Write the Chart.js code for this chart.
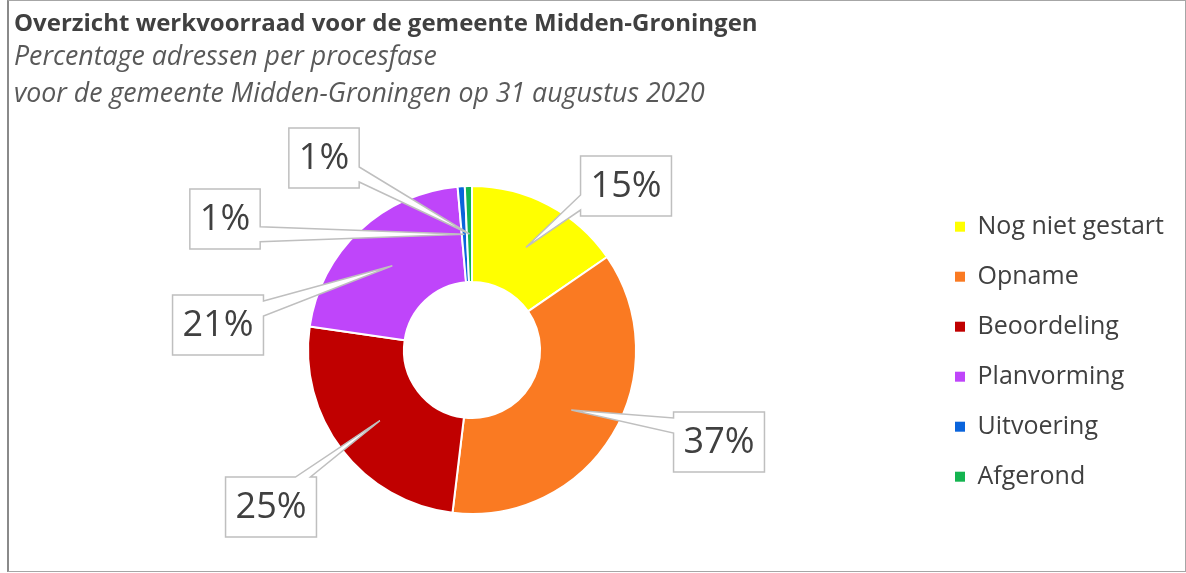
<!DOCTYPE html>
<html>
<head>
<meta charset="utf-8">
<script src="https://cdn.jsdelivr.net/npm/chart.js@4.4.1/dist/chart.umd.min.js"></script>
<style>
  html, body { margin: 0; padding: 0; background: #fff; }
  #wrap { position: relative; width: 1186px; height: 573px; }
  #chart { position: absolute; left: 0; top: 0; }
  #frame {
    position: absolute; left: 7px; top: 0; width: 1176px; height: 570px;
    border: 1px solid #a6a6a6; border-left: 2px solid #8a8a8a;
    pointer-events: none;
  }
</style>
</head>
<body>
<div id="wrap">
  <canvas id="chart" width="1186" height="573"></canvas>
  <div id="frame"></div>
</div>
<script>
// Data van de grafiek
const categories = ['Nog niet gestart', 'Opname', 'Beoordeling', 'Planvorming', 'Uitvoering', 'Afgerond'];
const percentages = [15.4, 36.5, 25.4, 21.3, 0.7, 0.7];
const sliceColors = ['#FFFF00', '#FA7A22', '#C00000', '#BF45FA', '#0A64DC', '#14B450'];

const titleText = 'Overzicht werkvoorraad voor de gemeente Midden-Groningen';
const subtitleLines = ['Percentage adressen per procesfase', 'voor de gemeente Midden-Groningen op 31 augustus 2020'];

// Labelteksten (afgerond op hele procenten)
const labelTexts = percentages.map(v => Math.round(v) + '%');

// Positie van de labelkaders t.o.v. het middelpunt, en de zijde waar de wijzer vertrekt
const labelLayout = [
  [154, -164, 'left'],
  [247, 92, 'left'],
  [-201, 157, 'top'],
  [-254, -25, 'right'],
  [-247, -131, 'right'],
  [-148, -192, 'right']
];

const FONT = '"Open Sans", Lato, sans-serif';
const TEXT_COLOR = '#404040';

// Plugin voor de labelkaders met wijzers
const calloutPlugin = {
  id: 'callouts',
  afterDatasetsDraw(chart) {
    const ctx = chart.ctx;
    const meta = chart.getDatasetMeta(0);
    const boxH = 60;
    const padX = 10;
    const hw = 7.5;
    ctx.save();
    ctx.font = '36px ' + FONT;
    meta.data.forEach((arc, i) => {
      const p = arc.getProps(['x', 'y', 'startAngle', 'endAngle', 'innerRadius', 'outerRadius'], true);
      const mid = (p.startAngle + p.endAngle) / 2;
      const rm = (p.innerRadius + p.outerRadius) / 2;
      const tipX = p.x + Math.cos(mid) * rm;
      const tipY = p.y + Math.sin(mid) * rm;

      const text = labelTexts[i];
      const w = ctx.measureText(text).width + 2 * padX;
      const [ox, oy, side] = labelLayout[i];
      const cx = p.x + ox, cy = p.y + oy;
      const l = cx - w / 2, r = cx + w / 2, t = cy - boxH / 2, b = cy + boxH / 2;
      const m = hw + 6;
      const bx = Math.min(Math.max(tipX, l + m), r - m);
      const by = Math.min(Math.max(tipY, t + m), b - m);

      ctx.beginPath();
      ctx.moveTo(l, t);
      if (side === 'top') {
        ctx.lineTo(bx - hw, t); ctx.lineTo(tipX, tipY); ctx.lineTo(bx + hw, t);
      }
      ctx.lineTo(r, t);
      if (side === 'right') {
        ctx.lineTo(r, by - hw); ctx.lineTo(tipX, tipY); ctx.lineTo(r, by + hw);
      }
      ctx.lineTo(r, b);
      if (side === 'bottom') {
        ctx.lineTo(bx + hw, b); ctx.lineTo(tipX, tipY); ctx.lineTo(bx - hw, b);
      }
      ctx.lineTo(l, b);
      if (side === 'left') {
        ctx.lineTo(l, by + hw); ctx.lineTo(tipX, tipY); ctx.lineTo(l, by - hw);
      }
      ctx.closePath();
      ctx.fillStyle = '#ffffff';
      ctx.fill();
      ctx.lineWidth = 1.5;
      ctx.strokeStyle = '#bfbfbf';
      ctx.stroke();

      ctx.fillStyle = TEXT_COLOR;
      ctx.textAlign = 'center';
      ctx.textBaseline = 'middle';
      ctx.fillText(text, cx, cy + 1);
    });
    ctx.restore();
  }
};

const defaultLabels = Chart.overrides.doughnut.plugins.legend.labels.generateLabels;

new Chart(document.getElementById('chart'), {
  type: 'doughnut',
  data: {
    labels: categories,
    datasets: [{
      data: percentages,
      backgroundColor: sliceColors,
      borderColor: '#ffffff',
      borderWidth: 2,
      radius: 164,
      cutout: '41.5%'
    }]
  },
  options: {
    responsive: false,
    animation: false,
    layout: { padding: { left: 14, right: 12, top: 0, bottom: 0 } },
    plugins: {
      title: {
        display: true,
        text: titleText,
        align: 'start',
        color: TEXT_COLOR,
        font: { family: FONT, size: 24, weight: 'bold', lineHeight: 1.2 },
        padding: { top: 10, bottom: 0 }
      },
      subtitle: {
        display: true,
        text: subtitleLines,
        align: 'start',
        color: '#595959',
        font: { family: FONT, size: 26.7, style: 'italic', lineHeight: 1.39 },
        padding: { top: 0, bottom: 14 }
      },
      legend: {
        position: 'right',
        align: 'start',
        title: {
          display: true,
          text: ' ',
          font: { size: 1 },
          padding: { top: 188, bottom: 0 }
        },
        labels: {
          boxWidth: 10,
          boxHeight: 10,
          padding: 25,
          color: TEXT_COLOR,
          font: { family: FONT, size: 25 },
          generateLabels: (chart) => defaultLabels(chart).map(item => ({ ...item, lineWidth: 0 }))
        }
      },
      tooltip: { enabled: false }
    }
  },
  plugins: [calloutPlugin]
});
</script>
</body>
</html>
